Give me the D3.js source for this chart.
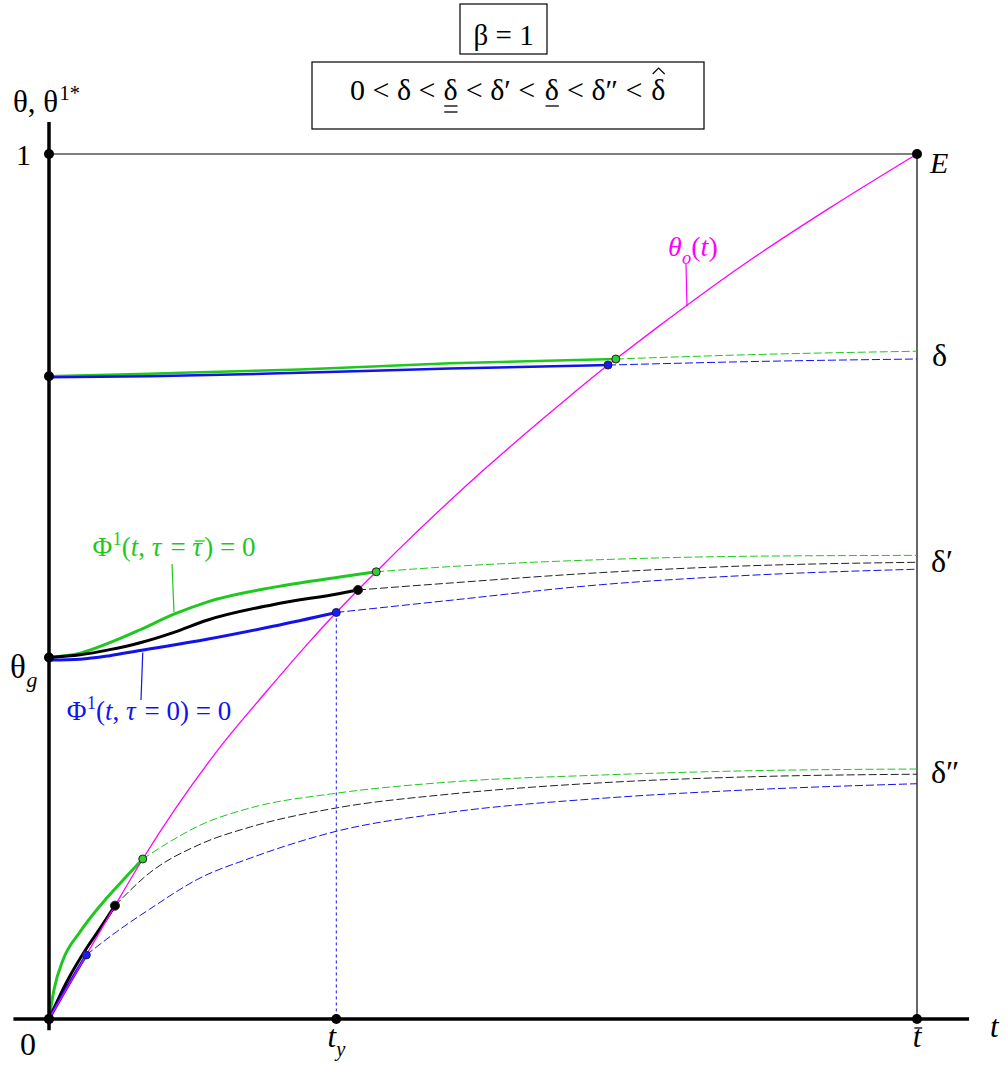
<!DOCTYPE html>
<html>
<head>
<meta charset="utf-8">
<script src="https://cdn.jsdelivr.net/npm/d3@7/dist/d3.min.js"></script>
<style>
  svg text { font-family: "Liberation Serif", "Times New Roman", serif; }
</style>
</head>
<body style="margin:0">
<div id="chart"></div>
<script>
// ---- data, each point is [t, theta] ----
const thetaO = [[0,0],[0.043,0.074],[0.076,0.131],[0.108,0.185],[0.2,0.318],[0.25,0.378],[0.3,0.436],[0.331,0.470],[0.356,0.496],[0.377,0.517],[0.4,0.540],[0.5,0.634],[0.6,0.720],[0.644,0.756],[0.653,0.763],[0.7,0.799],[0.8,0.872],[0.9,0.938],[1,1]];

// delta (top)
const greenTop = [[0,0.743],[0.116,0.746],[0.289,0.751],[0.462,0.758],[0.653,0.763]];
const blueTop  = [[0,0.742],[0.116,0.743],[0.289,0.747],[0.462,0.752],[0.644,0.756]];
const greenTopDash = [[0.653,0.763],[0.808,0.768],[1,0.772]];
const blueTopDash  = [[0.644,0.756],[0.808,0.760],[1,0.763]];

// delta' (middle)
const greenMid = [[0,0.418],[0.036,0.423],[0.070,0.435],[0.105,0.450],[0.144,0.468],[0.182,0.482],[0.258,0.499],[0.335,0.511],[0.377,0.517]];
const blackMid = [[0,0.418],[0.036,0.421],[0.070,0.427],[0.105,0.435],[0.144,0.447],[0.182,0.461],[0.258,0.479],[0.335,0.492],[0.356,0.496]];
const blueMid  = [[0,0.415],[0.036,0.416],[0.070,0.420],[0.105,0.426],[0.182,0.439],[0.258,0.454],[0.331,0.470]];
const greenMidDash = [[0.377,0.517],[0.462,0.523],[0.635,0.531],[0.808,0.535],[1,0.536]];
const blackMidDash = [[0.356,0.496],[0.462,0.504],[0.635,0.516],[0.808,0.524],[1,0.528]];
const blueMidDash  = [[0.331,0.470],[0.462,0.484],[0.635,0.502],[0.808,0.513],[1,0.520]];

// delta'' (bottom)
const greenLow = [[0,0],[0.006,0.035],[0.016,0.068],[0.036,0.101],[0.059,0.131],[0.082,0.157],[0.108,0.185]];
const blackLow = [[0,0],[0.021,0.044],[0.044,0.083],[0.059,0.105],[0.076,0.131]];
const blueLow  = [[0,0],[0.021,0.037],[0.043,0.074]];
const greenLowDash = [[0.108,0.185],[0.136,0.203],[0.174,0.224],[0.232,0.244],[0.331,0.261],[0.462,0.274],[0.635,0.282],[0.808,0.287],[1,0.289]];
const blackLowDash = [[0.076,0.131],[0.116,0.169],[0.174,0.202],[0.232,0.222],[0.331,0.244],[0.462,0.260],[0.635,0.273],[0.808,0.280],[1,0.283]];
const blueLowDash  = [[0.043,0.074],[0.078,0.101],[0.116,0.127],[0.174,0.163],[0.232,0.186],[0.331,0.217],[0.462,0.239],[0.635,0.255],[0.808,0.265],[1,0.272]];

const yTicks = [1, 0.743, 0.418, 0];
const xTicks = [0, 0.331, 1];
const tY = 0.331;

// ---- setup ----
const W = 1008, H = 1072;
const x = d3.scaleLinear().domain([0, 1]).range([49, 917]);
const y = d3.scaleLinear().domain([0, 1]).range([1019, 154]);

const svg = d3.select("#chart").append("svg")
    .attr("width", W).attr("height", H);

const line = d3.line().x(d => x(d[0])).y(d => y(d[1])).curve(d3.curveMonotoneX);

const GREEN = "#1ec81e", BLUE = "#1212ee", MAG = "#ff00ff";

// rough advance widths (em) of the serif face, used to place text runs
const CW = {" ": 0.25, ",": 0.25, "(": 0.333, ")": 0.333, "=": 0.564, "<": 0.564,
  "0": 0.5, "1": 0.5, "*": 0.5, "\u03b8": 0.5, "\u03b4": 0.49, "\u03b2": 0.5,
  "\u03a6": 0.75, "\u03c4": 0.44, "t": 0.28, "E": 0.61, "g": 0.5, "y": 0.44,
  "o": 0.5, "\u2032": 0.27, "\u2033": 0.44, "\u2009": 0.17};
const textW = (s, size) => [...s].reduce((a, c) => a + (CW[c] ?? 0.5), 0) * size;

// each run is its own <text>, laid out left to right
function rich(px, py, size, color, anchor, parts) {
  const runs = parts.map(p => {
    const fs = (p.sub || p.sup) ? size * 0.66 : size;
    return {p, fs, w: textW(p.s, fs)};
  });
  const total = d3.sum(runs, r => r.w);
  let cx = anchor === "middle" ? px - total / 2 : anchor === "end" ? px - total : px;
  runs.forEach(r => {
    const shift = r.p.sub ? size * 0.28 : r.p.sup ? -size * 0.4 : 0;
    const lead = r.p.s.length - r.p.s.trimStart().length;
    const body = r.p.s.trim();
    const bx = cx + textW(r.p.s.slice(0, lead), r.fs);
    if (body) {
      const t = svg.append("text").attr("x", bx).attr("y", py + shift)
          .attr("font-size", r.fs)
          .attr("font-family", "Liberation Serif")
          .style("font-family", "Liberation Serif")
          .attr("fill", color)
          .text(body);
      if (r.p.i) t.attr("font-style", "italic");
    }
    r.x = bx;
    r.bw = textW(body, r.fs);
    cx += r.w;
  });
  return runs;
}

function bar(run, yy, color, a, b) {
  svg.append("line")
      .attr("x1", run.x + run.bw * a).attr("x2", run.x + run.bw * b)
      .attr("y1", yy).attr("y2", yy)
      .attr("stroke", color).attr("stroke-width", 1.3);
}

// frame lines
svg.append("line").attr("x1", x(0)).attr("x2", x(1)).attr("y1", y(1)).attr("y2", y(1))
    .attr("stroke", "#000").attr("stroke-width", 1.2);
svg.append("line").attr("x1", x(1)).attr("x2", x(1)).attr("y1", y(1)).attr("y2", y(0))
    .attr("stroke", "#000").attr("stroke-width", 1.2);

// t_y dotted
svg.append("line").attr("x1", x(tY)).attr("x2", x(tY)).attr("y1", y(0.470)).attr("y2", y(0))
    .attr("stroke", BLUE).attr("stroke-width", 1).attr("stroke-dasharray", "3,3");

// dashed continuations
const dashed = [
  [greenTopDash, GREEN], [blueTopDash, BLUE],
  [greenMidDash, GREEN], [blackMidDash, "#222"], [blueMidDash, BLUE],
  [greenLowDash, GREEN], [blackLowDash, "#222"], [blueLowDash, BLUE]
];
dashed.forEach(([d, c]) => {
  svg.append("path").attr("d", line(d)).attr("fill", "none")
      .attr("stroke", c).attr("stroke-width", 1).attr("stroke-dasharray", "8,3");
});

// solid curves
const solid = [
  [greenTop, GREEN, 2.5], [blueTop, BLUE, 2.5],
  [greenMid, GREEN, 3], [blackMid, "#000", 3], [blueMid, BLUE, 3],
  [greenLow, GREEN, 3], [blackLow, "#000", 3], [blueLow, BLUE, 3]
];
solid.forEach(([d, c, w]) => {
  svg.append("path").attr("d", line(d)).attr("fill", "none")
      .attr("stroke", c).attr("stroke-width", w);
});

// theta_o(t)
svg.append("path").attr("d", line(thetaO)).attr("fill", "none")
    .attr("stroke", MAG).attr("stroke-width", 1.3);

// intersection dots
const ends = [
  [greenTop, "#33cc33"], [blueTop, "#1a1aff"],
  [greenMid, "#33cc33"], [blackMid, "#000"], [blueMid, "#1a1aff"],
  [greenLow, "#33cc33"], [blackLow, "#000"], [blueLow, "#1a1aff"]
];
ends.forEach(([d, c]) => {
  const p = d[d.length - 1];
  svg.append("circle").attr("cx", x(p[0])).attr("cy", y(p[1]))
      .attr("r", c === "#000" ? 4.5 : 4).attr("fill", c)
      .attr("stroke", "#222").attr("stroke-width", 1);
});

// thick axes
svg.append("line").attr("x1", x(-0.041)).attr("x2", x(1.06)).attr("y1", y(0)).attr("y2", y(0))
    .attr("stroke", "#000").attr("stroke-width", 3.5);
svg.append("line").attr("x1", x(0)).attr("x2", x(0)).attr("y1", y(-0.013)).attr("y2", y(1.037))
    .attr("stroke", "#000").attr("stroke-width", 3.5);

// axis dots
yTicks.forEach(v => svg.append("circle").attr("cx", x(0)).attr("cy", y(v)).attr("r", 5).attr("fill", "#000"));
xTicks.forEach(v => svg.append("circle").attr("cx", x(v)).attr("cy", y(0)).attr("r", 5).attr("fill", "#000"));
svg.append("circle").attr("cx", x(1)).attr("cy", y(1)).attr("r", 5).attr("fill", "#000");

// ---- labels ----
rich(13, 112, 31, "#000", "start", [{s: "\u03b8, \u03b8"}, {s: "1*", sup: true}]);
rich(31, 165, 30, "#000", "end", [{s: "1"}]);
rich(10, 678, 33, "#000", "start", [{s: "\u03b8"}, {s: "g", i: true, sub: true}]);
rich(36, 1055, 32, "#000", "end", [{s: "0"}]);

rich(x(tY), 1047, 31, "#000", "middle", [{s: "t", i: true}, {s: "y", i: true, sub: true}]);
const tbar = rich(x(1), 1047, 31, "#000", "middle", [{s: "t", i: true}]);
bar(tbar[0], 1028, "#000", 0.2, 1.1);
rich(990, 1037, 31, "#000", "start", [{s: "t", i: true}]);

rich(930, 173, 30, "#000", "start", [{s: "E", i: true}]);
rich(932, 366, 32, "#000", "start", [{s: "\u03b4"}]);
rich(931, 572, 32, "#000", "start", [{s: "\u03b4\u2032"}]);
rich(931, 783, 32, "#000", "start", [{s: "\u03b4\u2033"}]);

// theta_o label
rich(668, 256, 28, MAG, "start",
  [{s: "\u03b8", i: true}, {s: "o", i: true, sub: true}, {s: "("}, {s: "t", i: true}, {s: ")"}]);
svg.append("line").attr("x1", 686).attr("y1", 264).attr("x2", x(0.735)).attr("y2", y(0.824))
    .attr("stroke", MAG).attr("stroke-width", 1.2);

// Phi labels
const gl = rich(174, 556, 27, GREEN, "middle",
  [{s: "\u03a6"}, {s: "1", sup: true}, {s: "("}, {s: "t", i: true}, {s: ", "},
   {s: "\u03c4", i: true}, {s: " = "}, {s: "\u03c4", i: true}, {s: ") = 0"}]);
bar(gl[7], 541, GREEN, 0.2, 1.05);
svg.append("line").attr("x1", 172).attr("y1", 564).attr("x2", x(0.144)).attr("y2", y(0.468) - 2)
    .attr("stroke", GREEN).attr("stroke-width", 1.2);

rich(149, 720, 27, BLUE, "middle",
  [{s: "\u03a6"}, {s: "1", sup: true}, {s: "("}, {s: "t", i: true}, {s: ", "},
   {s: "\u03c4", i: true}, {s: " = 0) = 0"}]);
svg.append("line").attr("x1", x(0.108)).attr("y1", y(0.426) + 2).attr("x2", 141).attr("y2", 700)
    .attr("stroke", BLUE).attr("stroke-width", 1.2);

// ---- title boxes ----
svg.append("rect").attr("x", 460).attr("y", 4).attr("width", 87).attr("height", 50)
    .attr("fill", "#fff").attr("stroke", "#000").attr("stroke-width", 1.2);
rich(503.5, 45, 29, "#000", "middle", [{s: "\u03b2 = 1"}]);

svg.append("rect").attr("x", 312).attr("y", 62).attr("width", 392).attr("height", 67)
    .attr("fill", "#fff").attr("stroke", "#000").attr("stroke-width", 1.2);
const title = rich(508, 100, 30, "#000", "middle", [
  {s: "0 < \u03b4 < "}, {s: "\u03b4"}, {s: " < \u03b4\u2032 < "}, {s: "\u03b4"},
  {s: " < \u03b4\u2033 < "}, {s: "\u03b4"}]);
// double underline, single underline, hat
bar(title[1], 106, "#000", 0.05, 0.95);
bar(title[1], 112, "#000", 0.05, 0.95);
bar(title[3], 106, "#000", 0.05, 0.95);
{
  const r = title[5];
  const cx = r.x + r.bw / 2;
  svg.append("path")
      .attr("d", `M${cx - 6},74 L${cx},68 L${cx + 6},74`)
      .attr("fill", "none").attr("stroke", "#000").attr("stroke-width", 1.2);
}
</script>
</body>
</html>
